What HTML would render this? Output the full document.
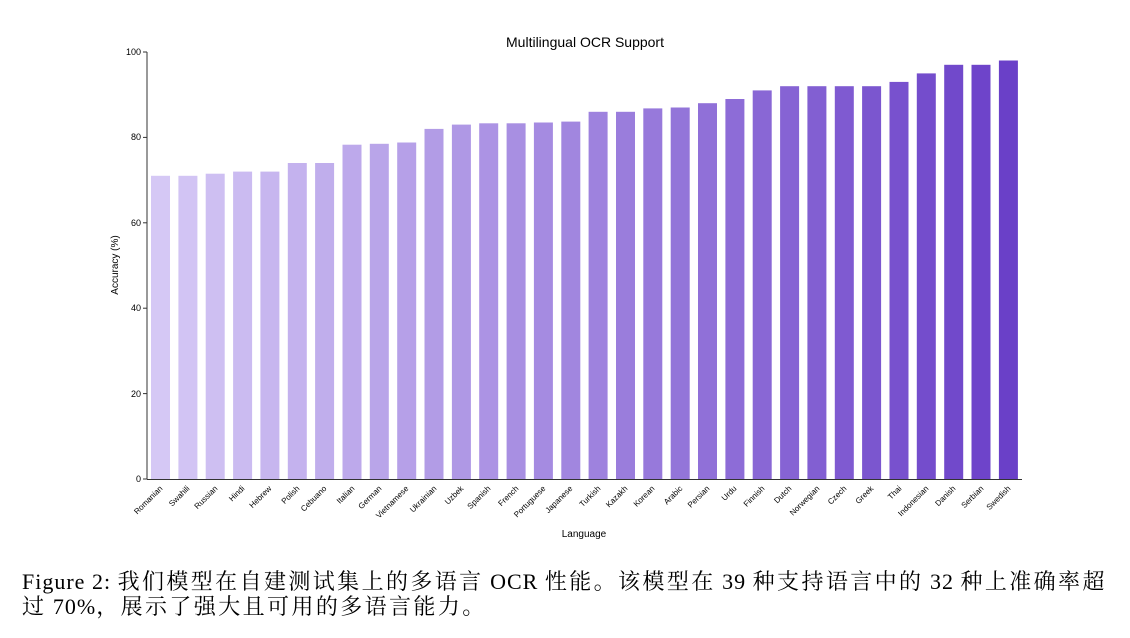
<!DOCTYPE html>
<html><head><meta charset="utf-8"><style>
body{margin:0;background:#fff;width:1130px;height:638px;overflow:hidden;position:relative}
svg{position:absolute;left:0;top:0}
.cap{position:absolute;left:22px;top:569px;font-family:"Liberation Serif","Noto Serif CJK SC",serif;font-size:22px;line-height:25px;color:#000;white-space:nowrap;letter-spacing:1px}
.c{letter-spacing:2.4px}
</style></head><body>
<svg width="1130" height="560" font-family="Liberation Sans, sans-serif">
<text x="585" y="47" font-size="14" text-anchor="middle">Multilingual OCR Support</text>
<g fill="#000" font-size="9" text-anchor="end">
<text x="141" y="482">0</text><text x="141" y="397">20</text><text x="141" y="311">40</text><text x="141" y="226">60</text><text x="141" y="140">80</text><text x="141" y="55">100</text>
</g>
<g stroke="#333" stroke-width="1">
<line x1="143" y1="479" x2="147" y2="479"/><line x1="143" y1="393.6" x2="147" y2="393.6"/><line x1="143" y1="308.2" x2="147" y2="308.2"/><line x1="143" y1="222.8" x2="147" y2="222.8"/><line x1="143" y1="137.4" x2="147" y2="137.4"/><line x1="143" y1="52" x2="147" y2="52"/>
</g>
<text transform="translate(118,265) rotate(-90)" font-size="10" text-anchor="middle">Accuracy (%)</text>
<text x="584" y="537" font-size="10" text-anchor="middle">Language</text>
<g>
<rect x="151" y="175.8" width="19" height="303.2" fill="rgb(213,200,245)"/>
<rect x="178.4" y="175.8" width="19" height="303.2" fill="rgb(210,196,244)"/>
<rect x="205.7" y="173.7" width="19" height="305.3" fill="rgb(206,191,242)"/>
<rect x="233.1" y="171.6" width="19" height="307.4" fill="rgb(203,187,241)"/>
<rect x="260.4" y="171.6" width="19" height="307.4" fill="rgb(199,182,239)"/>
<rect x="287.8" y="163" width="19" height="316" fill="rgb(196,178,238)"/>
<rect x="315.1" y="163" width="19" height="316" fill="rgb(192,174,236)"/>
<rect x="342.5" y="144.7" width="19" height="334.3" fill="rgb(189,169,235)"/>
<rect x="369.8" y="143.8" width="19" height="335.2" fill="rgb(185,165,233)"/>
<rect x="397.2" y="142.5" width="19" height="336.5" fill="rgb(182,160,232)"/>
<rect x="424.5" y="128.9" width="19" height="350.1" fill="rgb(178,156,230)"/>
<rect x="451.9" y="124.6" width="19" height="354.4" fill="rgb(175,152,229)"/>
<rect x="479.2" y="123.3" width="19" height="355.7" fill="rgb(172,147,228)"/>
<rect x="506.6" y="123.3" width="19" height="355.7" fill="rgb(168,143,226)"/>
<rect x="533.9" y="122.5" width="19" height="356.5" fill="rgb(165,139,225)"/>
<rect x="561.3" y="121.6" width="19" height="357.4" fill="rgb(161,134,223)"/>
<rect x="588.6" y="111.8" width="19" height="367.2" fill="rgb(158,130,222)"/>
<rect x="616" y="111.8" width="19" height="367.2" fill="rgb(154,125,220)"/>
<rect x="643.3" y="108.4" width="19" height="370.6" fill="rgb(151,121,219)"/>
<rect x="670.7" y="107.5" width="19" height="371.5" fill="rgb(147,117,217)"/>
<rect x="698" y="103.2" width="19" height="375.8" fill="rgb(144,112,216)"/>
<rect x="725.4" y="99" width="19" height="380" fill="rgb(141,108,215)"/>
<rect x="752.7" y="90.4" width="19" height="388.6" fill="rgb(137,103,213)"/>
<rect x="780.1" y="86.2" width="19" height="392.8" fill="rgb(134,99,212)"/>
<rect x="807.4" y="86.2" width="19" height="392.8" fill="rgb(130,95,210)"/>
<rect x="834.8" y="86.2" width="19" height="392.8" fill="rgb(127,90,209)"/>
<rect x="862.1" y="86.2" width="19" height="392.8" fill="rgb(123,86,207)"/>
<rect x="889.5" y="81.9" width="19" height="397.1" fill="rgb(120,81,206)"/>
<rect x="916.8" y="73.4" width="19" height="405.6" fill="rgb(116,77,204)"/>
<rect x="944.2" y="64.8" width="19" height="414.2" fill="rgb(113,73,203)"/>
<rect x="971.5" y="64.8" width="19" height="414.2" fill="rgb(110,68,202)"/>
<rect x="998.9" y="60.5" width="19" height="418.5" fill="rgb(106,64,200)"/>
</g>
<line x1="147" y1="52" x2="147" y2="479.5" stroke="#333" stroke-width="1"/>
<line x1="147" y1="479.5" x2="1022" y2="479.5" stroke="#333" stroke-width="1"/>
<g font-size="8" text-anchor="end" fill="#000">
<text transform="translate(163,489) rotate(-45)">Romanian</text>
<text transform="translate(190,489) rotate(-45)">Swahili</text>
<text transform="translate(218,489) rotate(-45)">Russian</text>
<text transform="translate(245,489) rotate(-45)">Hindi</text>
<text transform="translate(272,489) rotate(-45)">Hebrew</text>
<text transform="translate(300,489) rotate(-45)">Polish</text>
<text transform="translate(327,489) rotate(-45)">Cebuano</text>
<text transform="translate(355,489) rotate(-45)">Italian</text>
<text transform="translate(382,489) rotate(-45)">German</text>
<text transform="translate(409,489) rotate(-45)">Vietnamese</text>
<text transform="translate(437,489) rotate(-45)">Ukrainian</text>
<text transform="translate(464,489) rotate(-45)">Uzbek</text>
<text transform="translate(491,489) rotate(-45)">Spanish</text>
<text transform="translate(519,489) rotate(-45)">French</text>
<text transform="translate(546,489) rotate(-45)">Portuguese</text>
<text transform="translate(573,489) rotate(-45)">Japanese</text>
<text transform="translate(601,489) rotate(-45)">Turkish</text>
<text transform="translate(628,489) rotate(-45)">Kazakh</text>
<text transform="translate(655,489) rotate(-45)">Korean</text>
<text transform="translate(683,489) rotate(-45)">Arabic</text>
<text transform="translate(710,489) rotate(-45)">Persian</text>
<text transform="translate(737,489) rotate(-45)">Urdu</text>
<text transform="translate(765,489) rotate(-45)">Finnish</text>
<text transform="translate(792,489) rotate(-45)">Dutch</text>
<text transform="translate(820,489) rotate(-45)">Norwegian</text>
<text transform="translate(847,489) rotate(-45)">Czech</text>
<text transform="translate(874,489) rotate(-45)">Greek</text>
<text transform="translate(902,489) rotate(-45)">Thai</text>
<text transform="translate(929,489) rotate(-45)">Indonesian</text>
<text transform="translate(956,489) rotate(-45)">Danish</text>
<text transform="translate(984,489) rotate(-45)">Serbian</text>
<text transform="translate(1011,489) rotate(-45)">Swedish</text>
</g>
</svg>
<div class="cap">Figure 2: <span class="c">我们模型在自建测试集上的多语言</span> OCR <span class="c">性能。该模型在</span> 39 <span class="c">种支持语言中的</span> 32 <span class="c">种上准确率超</span><br><span class="c">过</span> 70%<span class="c">，展示了强大且可用的多语言能力。</span></div>
</body></html>
